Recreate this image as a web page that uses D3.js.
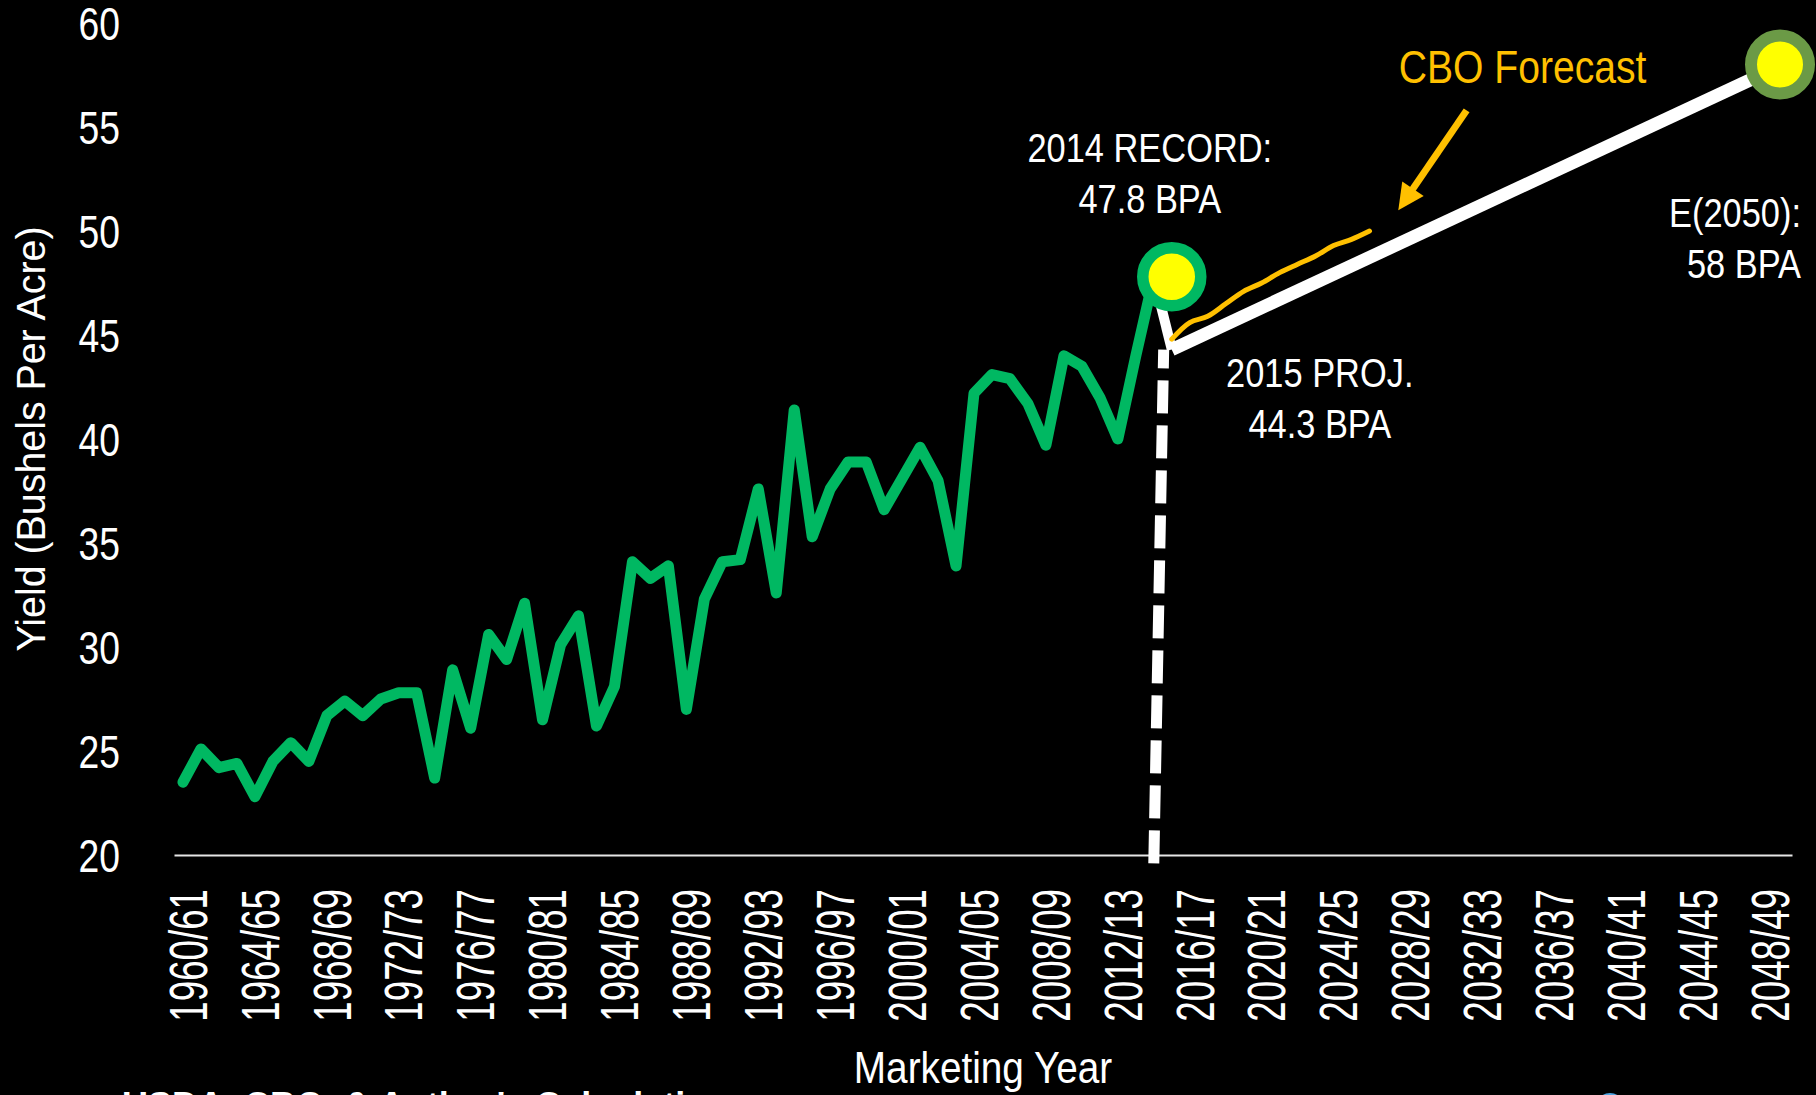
<!DOCTYPE html>
<html>
<head>
<meta charset="utf-8">
<script src="https://cdn.jsdelivr.net/npm/d3@7"></script>
<style>
  html, body { margin: 0; padding: 0; background: #000; overflow: hidden; }
  svg { display: block; }
</style>
</head>
<body>
<svg id="chart" width="1816" height="1095"></svg>
<script>
// ---- data ---------------------------------------------------------------
// Marketing years 1960/61 through 2049/50
const categories = d3.range(1960, 2050).map(y => `${y}/${String((y + 1) % 100).padStart(2, "0")}`);

const tickLabels = ["1960/61", "1964/65", "1968/69", "1972/73", "1976/77", "1980/81",
  "1984/85", "1988/89", "1992/93", "1996/97", "2000/01", "2004/05", "2008/09",
  "2012/13", "2016/17", "2020/21", "2024/25", "2028/29", "2032/33", "2036/37",
  "2040/41", "2044/45", "2048/49"];

const yTicks = [20, 25, 30, 35, 40, 45, 50, 55, 60];

// Historical US soybean yield, bushels per acre, 1960/61 – 2014/15
const historicalYears = categories.slice(0, 55);
const historicalYield = [
  23.5, 25.1, 24.2, 24.4, 22.8, 24.5, 25.4, 24.5, 26.7, 27.4,
  26.7, 27.5, 27.8, 27.8, 23.7, 28.9, 26.1, 30.6, 29.4, 32.1,
  26.5, 30.1, 31.5, 26.2, 28.1, 34.1, 33.3, 33.9, 27.0, 32.3,
  34.1, 34.2, 37.6, 32.6, 41.4, 35.3, 37.6, 38.9, 38.9, 36.6,
  38.1, 39.6, 38.0, 33.9, 42.2, 43.1, 42.9, 41.7, 39.7, 44.0,
  43.5, 42.0, 40.0, 44.0, 47.8
];

// Record -> 2015 projection -> 2050 expectation
const projectionYears = ["2014/15", "2015/16", "2049/50"];
const projectionYield = [47.8, 44.3, 58];

// CBO forecast path, 2015/16 – 2026/27
const cboYears = categories.slice(55, 67);
const cboYield = [44.8, 45.6, 45.9, 46.5, 47.1, 47.5, 48.0, 48.4, 48.8, 49.3, 49.6, 50.0];

// ---- layout -------------------------------------------------------------
const FONT = "'Liberation Sans', Arial, Helvetica, sans-serif";
const svg = d3.select("#chart");
svg.append("rect").attr("width", 1816).attr("height", 1095).attr("fill", "#000");

const x = d3.scaleBand().domain(categories).range([174, 1792]).padding(0);
const xc = d => x(d) + x.bandwidth() / 2;
const y = d3.scaleLinear().domain([20, 60]).range([855, 23]);

const GREEN = "#00B862", YELLOW = "#FFFF00", OLIVE = "#6B9A46", ORANGE = "#FFC000";

// condensed horizontal text
function label(parent, px, py, lines, opts) {
  const g = parent.append("g").attr("transform", `translate(${px},${py}) scale(${opts.k},1)`);
  lines.forEach((t, i) => {
    g.append("text")
      .attr("x", 0).attr("y", i * (opts.lead || 0))
      .attr("text-anchor", opts.anchor || "middle")
      .attr("font-family", FONT)
      .attr("font-size", opts.size)
      .attr("font-weight", opts.weight || "normal")
      .attr("fill", opts.fill || "#fff")
      .text(t);
  });
  return g;
}

// ---- axes ---------------------------------------------------------------
const xAxis = svg.append("g")
  .attr("transform", `translate(0,${y(20)})`)
  .call(d3.axisBottom(x).tickValues(tickLabels).tickSize(0).tickSizeOuter(0));
xAxis.select(".domain").attr("stroke", "#e6e6e6").attr("stroke-width", 2);
xAxis.selectAll(".tick text")
  .attr("x", 0).attr("y", 0).attr("dy", "0.44em")
  .attr("text-anchor", "end")
  .attr("transform", "translate(0,34) rotate(-90) scale(0.68,1)")
  .attr("font-family", FONT).attr("font-size", 54).attr("fill", "#fff");

const yAxis = svg.append("g")
  .attr("transform", "translate(120,0)")
  .call(d3.axisLeft(y).tickValues(yTicks).tickSize(0).tickPadding(0));
yAxis.select(".domain").remove();
yAxis.selectAll(".tick text")
  .attr("x", 0).attr("dy", "0.36em")
  .attr("transform", "scale(0.81,1)")
  .attr("font-family", FONT).attr("font-size", 46).attr("fill", "#fff");

// axis titles
svg.append("text")
  .attr("transform", `translate(45,${(y(20) + y(60)) / 2}) rotate(-90) scale(0.96,1)`)
  .attr("text-anchor", "middle")
  .attr("font-family", FONT).attr("font-size", 41).attr("fill", "#fff")
  .text("Yield (Bushels Per Acre)");

label(svg, (x.range()[0] + x.range()[1]) / 2, 1083, ["Marketing Year"], { size: 44, k: 0.88 });

// ---- marks --------------------------------------------------------------
const line = d3.line().x(d => xc(d[0])).y(d => y(d[1]));

// historical yield
svg.append("path")
  .datum(historicalYears.map((c, i) => [c, historicalYield[i]]))
  .attr("d", line)
  .attr("fill", "none").attr("stroke", GREEN).attr("stroke-width", 11)
  .attr("stroke-linejoin", "round").attr("stroke-linecap", "round");

// dashed divider between history and projection
const proj = projectionYears.map((c, i) => [c, projectionYield[i]]);
const divTopX = d3.interpolateNumber(xc(proj[0][0]), xc(proj[1][0]))(0.55);
svg.append("line")
  .attr("x1", xc(proj[0][0])).attr("y1", y(19.6))
  .attr("x2", divTopX).attr("y2", y(proj[1][1]))
  .attr("stroke", "#fff").attr("stroke-width", 11)
  .attr("stroke-dasharray", "33 12");

// record -> projection
svg.append("path")
  .datum(proj.slice(0, 2))
  .attr("d", line)
  .attr("fill", "none").attr("stroke", "#fff").attr("stroke-width", 10);

// projection -> 2050 expectation
svg.append("path")
  .datum(proj.slice(1))
  .attr("d", line)
  .attr("fill", "none").attr("stroke", "#fff").attr("stroke-width", 13)
  .attr("stroke-linecap", "butt");

// CBO forecast
svg.append("path")
  .datum(cboYears.map((c, i) => [c, cboYield[i]]))
  .attr("d", line.curve(d3.curveCatmullRom))
  .attr("fill", "none").attr("stroke", ORANGE).attr("stroke-width", 5)
  .attr("stroke-linejoin", "round").attr("stroke-linecap", "round");
line.curve(d3.curveLinear);

// arrow pointing at the CBO forecast
const step = x.step();
const xi = i => xc(categories[0]) + i * step;
const arrowTail = [xi(71.4), y(55.8)], arrowTip = [xi(67.6), y(51.0)];
(function drawArrow(t, h) {
  const dx = h[0] - t[0], dy = h[1] - t[1], len = Math.hypot(dx, dy);
  const ux = dx / len, uy = dy / len, px = -uy, py = ux;
  const headLen = 26, headHalf = 13;
  const base = [h[0] - ux * headLen, h[1] - uy * headLen];
  svg.append("line")
    .attr("x1", t[0]).attr("y1", t[1])
    .attr("x2", base[0] + ux * 2).attr("y2", base[1] + uy * 2)
    .attr("stroke", ORANGE).attr("stroke-width", 7);
  svg.append("path")
    .attr("d", `M${h[0]},${h[1]}L${base[0] + px * headHalf},${base[1] + py * headHalf}` +
               `L${base[0] - px * headHalf},${base[1] - py * headHalf}Z`)
    .attr("fill", ORANGE);
})(arrowTail, arrowTip);

// markers
const recordNudge = step;
svg.append("circle")
  .attr("cx", xc(proj[0][0]) + recordNudge).attr("cy", y(proj[0][1]))
  .attr("r", 29).attr("fill", YELLOW).attr("stroke", GREEN).attr("stroke-width", 11.5);
svg.append("circle")
  .attr("cx", xc(proj[2][0]) - 3).attr("cy", y(proj[2][1]))
  .attr("r", 29).attr("fill", YELLOW).attr("stroke", OLIVE).attr("stroke-width", 12);

// ---- annotations --------------------------------------------------------
const ann = { size: 40, k: 0.86, lead: 51 };
label(svg, xc(proj[0][0]) - 4, y(proj[0][1]) - 115, ["2014 RECORD:", "47.8 BPA"], ann);
label(svg, xc(proj[1][0]) + 148, y(proj[1][1]) + 37, ["2015 PROJ.", "44.3 BPA"], ann);
label(svg, xc(proj[2][0]) + 18, y(proj[2][1]) + 162, ["E(2050):", "58 BPA"],
      Object.assign({}, ann, { anchor: "end" }));
label(svg, arrowTail[0] + 56, arrowTail[1] - 27, ["CBO Forecast"],
      { size: 46, k: 0.85, fill: ORANGE });

// source line along the bottom edge
svg.append("text")
  .attr("x", 122).attr("y", 1118)
  .attr("font-family", FONT).attr("font-size", 36).attr("font-weight", "bold")
  .attr("fill", "#fff")
  .text("USDA, CBO, & Author's Calculations");
svg.append("ellipse")
  .attr("cx", 1610).attr("cy", 1101).attr("rx", 11).attr("ry", 8)
  .attr("fill", "#4DA3E0");
</script>
</body>
</html>
